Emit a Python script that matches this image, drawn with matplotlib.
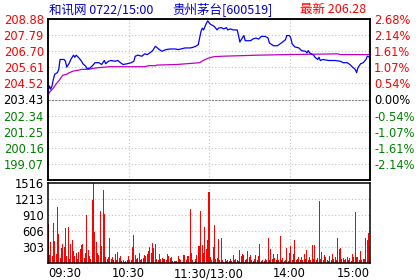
import numpy as np
import matplotlib.pyplot as plt

plt.rcParams['font.family'] = ['DejaVu Sans', 'Noto Sans CJK SC']

prev_close = 203.43
price_ticks = [208.88, 207.79, 206.70, 205.61, 204.52, 203.43, 202.34, 201.25, 200.16, 199.07]
pct_ticks = ['2.68%', '2.14%', '1.61%', '1.07%', '0.54%', '0.00%', '-0.54%', '-1.07%', '-1.61%', '-2.14%']
vol_ticks = [303, 606, 910, 1213, 1516]
time_ticks = [0, 60, 120, 180, 240]
time_labels = ['09:30', '10:30', '11:30/13:00', '14:00', '15:00']

# minute / price pairs
price_min = [0, 1, 2, 3, 4, 5, 7, 8, 9, 12, 13, 14, 16, 17, 19, 20, 21, 23, 25, 26, 28, 29,
             31, 32, 34, 35, 38, 40, 42, 43, 45, 47, 50, 52, 54, 56, 59, 62, 64, 65, 67, 70,
             72, 74, 76, 78, 80, 81, 83, 85, 86, 88, 91, 95, 97, 100, 102, 106, 108, 110, 112,
             113, 114, 115, 116, 117, 118, 119, 121, 123, 124, 126, 127, 129, 131, 133, 134,
             136, 138, 141, 142, 143, 144, 146, 147, 151, 153, 155, 157, 159, 162, 164, 165,
             168, 171, 174, 177, 178, 180, 181, 182, 184, 187, 189, 192, 193, 194, 195, 198,
             199, 201, 202, 203, 205, 209, 214, 218, 220, 223, 225, 227, 229, 230, 231, 233,
             235, 237, 238, 240]
price = [203.95, 204.35, 204.13, 204.35, 204.80, 205.14, 205.25, 205.47, 206.14, 206.14,
         206.02, 205.62, 205.92, 206.14, 206.43, 206.29, 206.43, 206.25, 206.02, 205.85,
         205.69, 205.54, 205.54, 205.62, 205.80, 205.92, 205.92, 205.80, 206.07, 205.85,
         206.02, 206.07, 206.02, 206.07, 205.92, 205.80, 205.85, 205.92, 206.02, 206.36,
         206.43, 206.36, 206.52, 206.47, 206.59, 206.74, 207.03, 206.96, 206.81, 206.69,
         206.74, 206.81, 206.85, 206.85, 206.81, 206.87, 206.92, 206.92, 206.96, 207.03,
         207.14, 207.59, 208.03, 208.26, 208.14, 208.37, 208.59, 208.75, 208.53, 208.43,
         208.37, 208.14, 208.26, 208.30, 208.21, 208.30, 208.14, 208.21, 208.14, 208.14,
         207.76, 207.32, 207.48, 207.76, 207.41, 207.41, 207.54, 207.59, 207.52, 207.70,
         207.70, 207.59, 207.26, 207.07, 207.07, 207.26, 207.48, 207.76, 207.76, 207.59,
         207.19, 206.99, 206.92, 206.74, 206.69, 206.59, 206.74, 206.59, 206.43, 206.29,
         206.14, 206.29, 206.07, 206.14, 206.07, 206.07, 206.02, 205.92, 205.92, 205.80,
         205.62, 205.47, 205.25, 205.58, 205.85, 205.92, 206.14, 206.36, 206.28]

avg_min = [0, 1, 4, 6, 8, 10, 11, 14, 16, 19, 23, 25, 30, 34, 37, 46, 72, 75, 80, 81, 96,
           106, 113, 116, 119, 123, 130, 156, 178, 216, 218, 240]
avg_price = [203.68, 203.91, 204.20, 204.47, 204.69, 204.95, 205.07, 205.14, 205.25, 205.36,
             205.42, 205.47, 205.47, 205.54, 205.58, 205.65, 205.65, 205.72, 205.72, 205.76,
             205.80, 205.87, 205.92, 206.09, 206.21, 206.32, 206.36, 206.43, 206.47, 206.52,
             206.47, 206.47]

volume = [740, 160, 410, 140, 770, 430, 177, 1075,
          556, 95, 284, 367, 316, 670, 140, 695, 76, 367,
          442, 240, 140, 190, 76, 221, 272, 348, 367, 95,
          202, 923, 253, 140, 76, 1200, 1516, 600, 410, 202,
          158, 990, 330, 1390, 935, 126, 76, 126, 480, 76,
          126, 63, 177, 63, 221, 95, 140, 50, 63, 32,
          50, 63, 140, 63, 63, 316, 537, 158, 76, 95,
          190, 63, 76, 95, 152, 140, 177, 240, 316, 202,
          380, 284,
          367, 76, 63, 177, 88, 100, 76, 88, 63, 177,
          140, 95, 126, 50, 50, 50, 50, 140, 76, 63,
          25, 158, 158, 63, 140, 140, 1036, 202, 63, 32,
          76, 158, 330, 330, 1000, 348, 202, 695, 265, 442,
          1360, 126, 63, 303, 727, 76, 95, 455, 63, 480,
          63, 32, 76, 38, 63, 38, 76, 38, 158, 63,
          76, 63, 38, 253, 140, 177, 158, 63, 88, 240,
          114, 164, 63, 50, 88, 164, 63, 140, 367,
          38, 63, 38, 76, 63, 474, 63, 272, 88, 177,
          100, 63, 177, 63, 518, 63, 100, 50, 63, 284,
          50, 202, 330, 63, 177, 442, 63, 88, 114, 63,
          114, 63, 177, 88, 253, 63, 114, 63, 348, 76,
          348, 63, 100, 1188, 76, 221, 63, 164, 114, 63,
          50, 140, 63, 177, 76, 114, 63, 474, 265, 284,
          76, 100, 63, 88, 114, 63, 100, 50, 177, 114,
          980, 114, 114, 63, 240, 63, 88, 88, 474, 442,
          581, 330]
vol_min = np.arange(len(volume))

def tick_color(v):
    if v > prev_close + 0.001:
        return 'red'
    if v < prev_close - 0.001:
        return 'green'
    return 'black'

grid_kw = dict(color='#c0c0c0', lw=0.8, ls=(0, (1, 2)))

fig = plt.figure(figsize=(4.2, 2.8), dpi=100)
ax = fig.add_axes([48/420, 1-180/280, 322/420, 161/280])
axv = fig.add_axes([48/420, 1-263.3/280, 322/420, 80/280])

# price panel
for v in price_ticks[1:]:
    if v == prev_close:
        ax.axhline(v, color='#808080', lw=0.8, ls=(0, (2, 1)), zorder=1)
    else:
        ax.axhline(v, zorder=1, **grid_kw)
for t in time_ticks[1:-1]:
    ax.axvline(t, zorder=1, **grid_kw)
ax.plot(avg_min, avg_price, color='#c000c0', lw=0.9, zorder=3)
ax.plot(price_min, price, color='#0000ff', lw=0.9, zorder=4)
ax.set_xlim(0, 240)
ax.set_ylim(prev_close - 5*1.09, prev_close + 5*1.09)
ax.set_xticks([])
ax.set_yticks(price_ticks)
ax.set_yticklabels(['%.2f' % v for v in price_ticks], fontsize=8.3)
for lab, v in zip(ax.get_yticklabels(), price_ticks):
    lab.set_color(tick_color(v))
ax.tick_params(axis='y', length=0, pad=3)

axr = ax.twinx()
axr.set_ylim(ax.get_ylim())
axr.set_yticks(price_ticks)
axr.set_yticklabels(pct_ticks, fontsize=8.3)
for lab, v in zip(axr.get_yticklabels(), price_ticks):
    lab.set_color(tick_color(v))
axr.tick_params(axis='y', length=0, pad=3)

for a in (ax, axr, axv):
    for s in a.spines.values():
        s.set_linewidth(1.1)

# volume panel
for v in vol_ticks[:-1]:
    axv.axhline(v, zorder=1, **grid_kw)
for t in time_ticks[1:-1]:
    axv.axvline(t, zorder=1, **grid_kw)
axv.bar(vol_min, volume, width=0.75, color='#ff0000', linewidth=0, zorder=2)
axv.set_xlim(0, 240)
axv.set_ylim(0, 1516)
axv.set_yticks(vol_ticks)
axv.set_yticklabels([str(v) for v in vol_ticks], fontsize=8.3)
axv.set_xticks(time_ticks)
axv.set_xticklabels(time_labels, fontsize=8.3)
labs = axv.get_xticklabels()
labs[0].set_ha('left')
labs[-1].set_ha('right')
axv.tick_params(length=0, pad=3)

cjk = ['Noto Sans CJK SC', 'DejaVu Sans']
fig.text(49/420, 1-10/280, '和讯网 0722/15:00', color='#0000cc', fontsize=9,
         family=cjk, va='center', ha='left')
fig.text(172/420, 1-10/280, '贵州茅台[600519]', color='#0000cc', fontsize=9,
         family=cjk, va='center', ha='left')
fig.text(300/420, 1-10/280, '最新 206.28', color='red', fontsize=9,
         family=cjk, va='center', ha='left')

fig.savefig('out.png', dpi=100)
